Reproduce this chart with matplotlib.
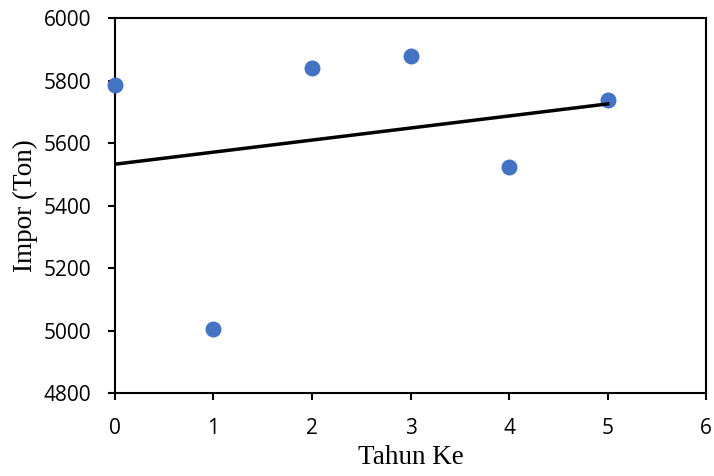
import numpy as np
import matplotlib
matplotlib.use('Agg')
import matplotlib.pyplot as plt

# data
tahun = [0, 1, 2, 3, 4, 5]
impor = [5787, 5005, 5840, 5880, 5525, 5737]

# linear trendline through the points
slope, intercept = np.polyfit(tahun, impor, 1)
trend_x = np.array([tahun[0], tahun[-1]])
trend_y = slope * trend_x + intercept

fig = plt.figure(figsize=(7.14, 4.76), dpi=100)
ax = fig.add_axes([0.161, 0.174, 0.828, 0.788])

ax.scatter(tahun, impor, s=110, color='#4472C4', zorder=3, clip_on=False)
ax.plot(trend_x, trend_y, color='black', linewidth=2.5, zorder=4)

ax.set_xlim(0, 6)
ax.set_ylim(4800, 6000)
ax.set_xticks(range(0, 7))
ax.set_yticks(range(4800, 6001, 200))

for sp in ax.spines.values():
    sp.set_linewidth(1.5)
ax.tick_params(direction='out', length=5, width=1.5, labelsize=15)
ax.tick_params(axis='x', pad=13)
ax.tick_params(axis='y', pad=12)
for lbl in ax.get_xticklabels() + ax.get_yticklabels():
    lbl.set_family('Open Sans')

ax.set_xlabel('Tahun Ke', family='Liberation Serif', fontsize=19.5, labelpad=4)
ax.set_ylabel('Impor (Ton)', family='Liberation Serif', fontsize=19.5, labelpad=4)

fig.savefig('out.png', dpi=100)
